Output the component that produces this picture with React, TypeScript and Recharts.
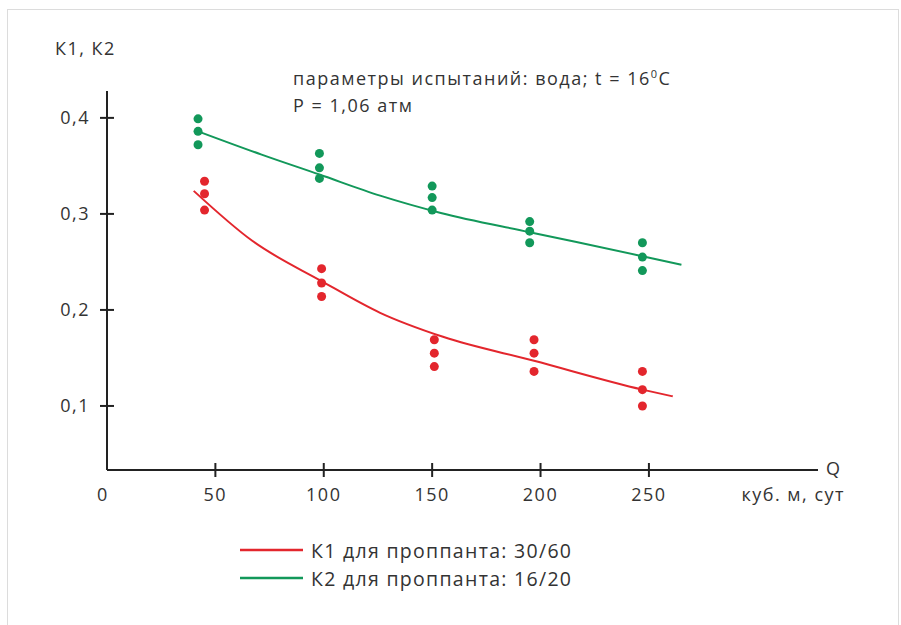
import React from 'react';
import {
  ComposedChart,
  Line,
  Scatter,
  XAxis,
  YAxis,
  Legend,
  Label,
} from 'recharts';

// Q, куб. м/сут — measured groups (three points each)
const k1GroupQ = [45, 99, 151, 197, 247];
const k1GroupK = [
  [0.334, 0.321, 0.304],
  [0.243, 0.228, 0.214],
  [0.169, 0.155, 0.141],
  [0.169, 0.155, 0.136],
  [0.136, 0.117, 0.1],
];
const k2GroupQ = [42, 98, 150, 195, 247];
const k2GroupK = [
  [0.399, 0.386, 0.372],
  [0.363, 0.348, 0.337],
  [0.329, 0.317, 0.304],
  [0.292, 0.282, 0.27],
  [0.27, 0.255, 0.241],
];

// approximating curves
const k1CurveQ = [40, 67, 99, 126, 155, 197, 247, 261];
const k1CurveK = [0.324, 0.272, 0.23, 0.197, 0.172, 0.147, 0.117, 0.11];
const k2CurveQ = [42, 71, 98, 126, 154, 195, 247, 265];
const k2CurveK = [0.386, 0.362, 0.341, 0.319, 0.301, 0.281, 0.256, 0.247];

const xTicks = [0, 50, 100, 150, 200, 250];
const yTicks = [0.1, 0.2, 0.3, 0.4];

const RED = '#e3262d';
const GREEN = '#12985a';
const FONT = '"Open Sans", sans-serif';
const TEXT = '#333';
const FS = 18;
const LS = 1.5;

const toPoints = (qs: number[], ks: number[][]) =>
  qs.flatMap((q, i) => ks[i].map((k) => ({ q, k })));
const toCurve = (qs: number[], ks: number[]) => qs.map((q, i) => ({ q, k: ks[i] }));

const k1Points = toPoints(k1GroupQ, k1GroupK);
const k2Points = toPoints(k2GroupQ, k2GroupK);
const k1Curve = toCurve(k1CurveQ, k1CurveK);
const k2Curve = toCurve(k2CurveQ, k2CurveK);

const XTick = (props: any) => {
  const { x, y, payload } = props;
  return (
    <g>
      {payload.value !== 0 && (
        <line x1={x} x2={x} y1={y - 7} y2={y + 7} stroke="#222" strokeWidth={2} />
      )}
      <text
        x={payload.value === 0 ? x - 4 : x}
        y={y + 31}
        textAnchor="middle"
        fontSize={FS}
        letterSpacing={LS}
        fontFamily={FONT}
        fill={TEXT}
      >
        {payload.value}
      </text>
    </g>
  );
};

const YTick = (props: any) => {
  const { x, y, payload } = props;
  return (
    <g>
      <line x1={x - 7} x2={x + 7} y1={y} y2={y} stroke="#222" strokeWidth={2} />
      <text
        x={x - 17}
        y={y + 6}
        textAnchor="end"
        fontSize={FS}
        letterSpacing={LS}
        fontFamily={FONT}
        fill={TEXT}
      >
        {payload.value.toFixed(1).replace('.', ',')}
      </text>
    </g>
  );
};

const Dot = (props: any) => {
  const { cx, cy, fill } = props;
  return <circle cx={cx} cy={cy} r={4.5} fill={fill} />;
};

const LegendContent = (props: any) => {
  const items = (props.payload || []).filter((p: any) => p.type !== 'none');
  return (
    <div style={{ fontFamily: FONT, fontSize: 19.5, letterSpacing: 1.3, color: TEXT }}>
      {items.map((p: any) => (
        <div key={p.value} style={{ display: 'flex', alignItems: 'center', height: 28 }}>
          <svg width={66} height={10} style={{ marginRight: 8 }}>
            <line x1={3} x2={66} y1={5} y2={5} stroke={p.color} strokeWidth={2.5} />
          </svg>
          <span>{p.value}</span>
        </div>
      ))}
    </div>
  );
};

export default function App() {
  return (
    <div
      style={{
        position: 'absolute',
        left: 0,
        top: 0,
        width: 901,
        height: 625,
        overflow: 'hidden',
        background: '#fff',
        fontFamily: FONT,
      }}
    >
      <div
        style={{
          position: 'absolute',
          left: 7,
          top: 9,
          width: 890,
          height: 640,
          border: '1.5px solid #dcdcdc',
        }}
      />
      <div
        style={{
          position: 'absolute',
          left: 293,
          top: 60,
          fontSize: FS,
          letterSpacing: LS,
          color: TEXT,
          lineHeight: '27px',
        }}
      >
        <div>
          параметры испытаний: вода; t = 16
          <sup style={{ fontSize: 11 }}>0</sup>С
        </div>
        <div>P = 1,06 атм</div>
      </div>
      <ComposedChart
        width={901}
        height={625}
        margin={{ top: 91, right: 83, bottom: 95, left: 47 }}
        style={{ position: 'absolute', left: 0, top: 0 }}
      >
        <XAxis
          type="number"
          dataKey="q"
          domain={[0, 328]}
          ticks={xTicks}
          allowDataOverflow
          height={60}
          axisLine={{ stroke: '#222', strokeWidth: 2 }}
          tickLine={false}
          tickSize={0}
          tickMargin={0}
          tick={<XTick />}
        >
          <Label
            content={(p: any) => {
              const vb = p.viewBox;
              return (
                <g fontFamily={FONT} fill={TEXT} fontSize={FS} letterSpacing={LS}>
                  <text x={vb.x + vb.width + 8} y={vb.y + 5}>Q</text>
                  <text x={vb.x + vb.width + 27} y={vb.y + 31} textAnchor="end">
                    куб. м, сут
                  </text>
                </g>
              );
            }}
          />
        </XAxis>
        <YAxis
          type="number"
          dataKey="k"
          domain={[0.0333, 0.428]}
          ticks={yTicks}
          allowDataOverflow
          width={60}
          axisLine={{ stroke: '#222', strokeWidth: 2 }}
          tickLine={false}
          tickSize={0}
          tickMargin={0}
          tick={<YTick />}
        >
          <Label
            content={(p: any) => {
              const vb = p.viewBox;
              return (
                <text
                  x={vb.x + 8}
                  y={vb.y - 36}
                  fontFamily={FONT}
                  fill={TEXT}
                  fontSize={FS}
                  letterSpacing={LS}
                >
                  К1, К2
                </text>
              );
            }}
          />
        </YAxis>
        <Legend
          content={<LegendContent />}
          layout="vertical"
          align="center"
          verticalAlign="middle"
          wrapperStyle={{ position: 'absolute', left: 237, top: 536, width: 420 }}
        />
        <Line
          data={k1Curve}
          dataKey="k"
          name="К1 для проппанта: 30/60"
          type="monotone"
          stroke={RED}
          strokeWidth={2}
          dot={false}
          activeDot={false}
          isAnimationActive={false}
        />
        <Line
          data={k2Curve}
          dataKey="k"
          name="К2 для проппанта: 16/20"
          type="monotone"
          stroke={GREEN}
          strokeWidth={2}
          dot={false}
          activeDot={false}
          isAnimationActive={false}
        />
        <Scatter
          data={k1Points}
          dataKey="k"
          fill={RED}
          shape={<Dot />}
          legendType="none"
          isAnimationActive={false}
        />
        <Scatter
          data={k2Points}
          dataKey="k"
          fill={GREEN}
          shape={<Dot />}
          legendType="none"
          isAnimationActive={false}
        />
      </ComposedChart>
    </div>
  );
}
